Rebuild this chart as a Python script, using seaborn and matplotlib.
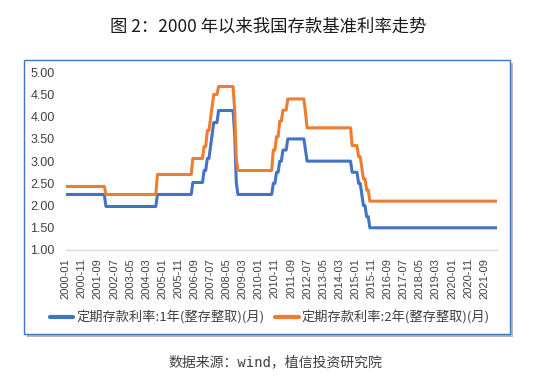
import matplotlib
matplotlib.use("Agg")
import matplotlib.pyplot as plt
from matplotlib.patches import Rectangle
import seaborn as sns
import pandas as pd

# ---- data: benchmark deposit rates (month of change, rate) ----
change_months = ["2000-01", "2002-02", "2004-10", "2006-08", "2007-03", "2007-05",
                 "2007-07", "2007-08", "2007-09", "2007-12", "2008-10", "2008-11",
                 "2008-12", "2010-10", "2010-12", "2011-02", "2011-04", "2011-07",
                 "2012-06", "2012-07", "2014-11", "2015-03", "2015-05", "2015-06",
                 "2015-08", "2015-10"]
rate_1y = [2.25, 1.98, 2.25, 2.52, 2.79, 3.06, 3.33, 3.60, 3.87, 4.14, 3.60, 2.52,
           2.25, 2.50, 2.75, 3.00, 3.25, 3.50, 3.25, 3.00, 2.75, 2.50, 2.25, 2.00,
           1.75, 1.50]
rate_2y = [2.43, 2.25, 2.70, 3.06, 3.33, 3.69, 3.96, 4.23, 4.50, 4.68, 4.14, 3.06,
           2.79, 3.25, 3.55, 3.90, 4.15, 4.40, 4.10, 3.75, 3.35, 3.10, 2.85, 2.60,
           2.35, 2.10]
first_month = "2000-01"
last_month = "2022-05"
series_names = ["定期存款利率:1年(整存整取)(月)", "定期存款利率:2年(整存整取)(月)"]
colors = ["#4472C4", "#ED7D31"]

months = pd.period_range(first_month, last_month, freq="M")
chg = pd.PeriodIndex(change_months, freq="M")
s1 = pd.Series(rate_1y, index=chg).reindex(months).ffill()
s2 = pd.Series(rate_2y, index=chg).reindex(months).ffill()
labels = [str(p) for p in months]

df = pd.concat([
    pd.DataFrame({"idx": range(len(months)), "rate": s1.values, "series": series_names[0]}),
    pd.DataFrame({"idx": range(len(months)), "rate": s2.values, "series": series_names[1]}),
])

sns.set_style("white")
plt.rcParams["font.family"] = ["Noto Sans CJK SC", "DejaVu Sans"]

fig = plt.figure(figsize=(5.5, 3.87), dpi=100)
W, H = 550, 387

# chart box with shadow
bx0, bx1, by0, by1 = 24, 510, 60, 334
fig.patches.append(Rectangle(((bx0 + 3) / W, 1 - (by1 + 3) / H), (bx1 - bx0) / W, (by1 - by0) / H,
                             transform=fig.transFigure, facecolor="#9a9a9a", edgecolor="none",
                             alpha=0.7, zorder=-3))
fig.patches.append(Rectangle((bx0 / W, 1 - by1 / H), (bx1 - bx0) / W, (by1 - by0) / H,
                             transform=fig.transFigure, facecolor="white", edgecolor="#4472C4",
                             linewidth=1.0, zorder=-2))

ax = fig.add_axes([65.7 / W, 1 - 250 / H, (497 - 65.7) / W, (250 - 72.3) / H])
ax.patch.set_alpha(0)

sns.lineplot(data=df, x="idx", y="rate", hue="series", palette=colors,
             linewidth=2.2, ax=ax, legend=False)

ax.set_xlim(0, len(months) - 1)
ax.set_ylim(1.0, 5.0)
ax.set_yticks([1.0, 1.5, 2.0, 2.5, 3.0, 3.5, 4.0, 4.5, 5.0])
ax.set_yticklabels([f"{v:.2f}" for v in ax.get_yticks()], family="Liberation Sans",
                   fontsize=9, color="#404040")
ticks = list(range(0, len(months), 10))
ax.set_xticks(ticks)
ax.set_xticklabels([labels[i] for i in ticks], rotation=90, family="Liberation Sans",
                   fontsize=8, color="#404040")
ax.set_xlabel("")
ax.set_ylabel("")
for sp in ["top", "right", "left"]:
    ax.spines[sp].set_visible(False)
ax.spines["bottom"].set_color("#D9D9D9")
ax.spines["bottom"].set_linewidth(1.0)
ax.tick_params(axis="x", length=4, width=1, color="#D9D9D9", pad=2, direction="out")
ax.tick_params(axis="y", length=0, pad=8)
ax.grid(False)

handles = [plt.Line2D([], [], color=c, linewidth=3) for c in colors]
fig.legend(handles, series_names, loc="center", bbox_to_anchor=(0.49, 1 - 318 / H),
           ncol=2, frameon=False, fontsize=9.5, handlelength=1.8, handletextpad=0.2,
           columnspacing=0.8, labelcolor="#404040")

fig.text(0.487, 1 - 27 / H, "图 2：2000 年以来我国存款基准利率走势", ha="center", va="center",
         fontsize=12.5, color="#1a1a1a")
fig.text(0.5, 1 - 362 / H, "数据来源：wind，植信投资研究院", ha="center", va="center",
         fontsize=10, color="#404040", family=["DejaVu Sans Mono", "Noto Sans CJK SC"])

fig.savefig("out.png", dpi=100)
